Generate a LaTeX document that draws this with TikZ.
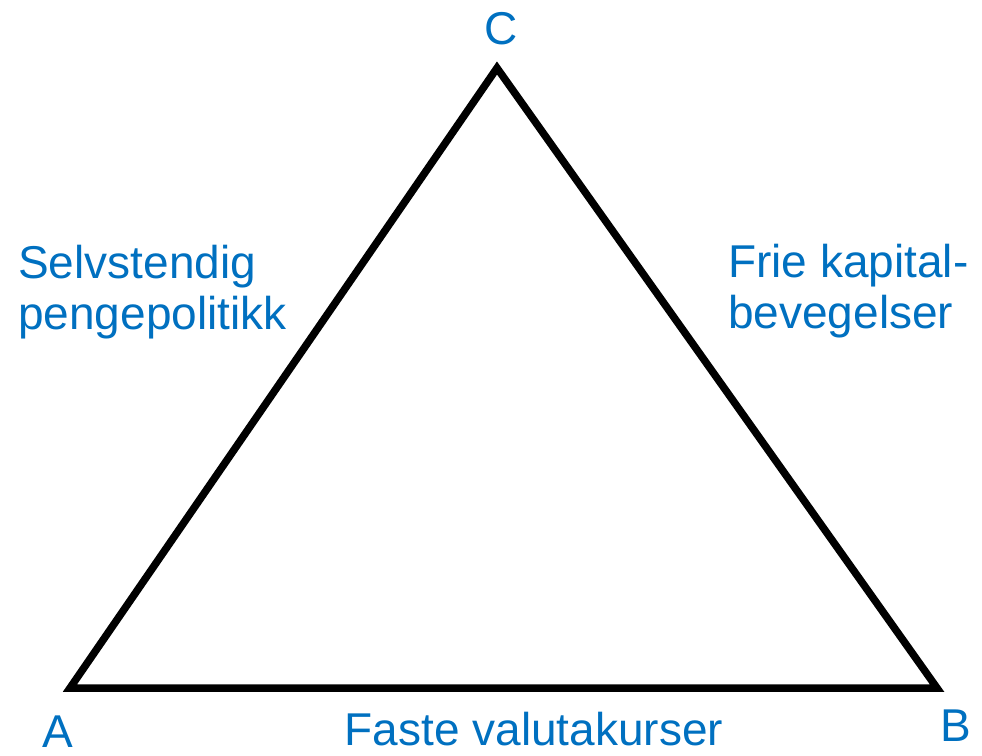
\documentclass[tikz,border=0pt]{standalone}
\usepackage{fontspec}
\setmainfont{Liberation Sans}
\usetikzlibrary{positioning}
\definecolor{trilBlue}{HTML}{0070C0}

\begin{document}
\begin{tikzpicture}[
  x=1pt, y=-1pt,
  corner/.style={text=trilBlue, inner sep=0pt,
                 font=\fontsize{46}{52}\selectfont},
  sidelabel/.style={text=trilBlue, inner sep=0pt, align=left,
                    font=\fontsize{46}{51}\selectfont},
  triside/.style={draw=black, line width=7.5pt, line join=miter}
]
\useasboundingbox (0,0) rectangle (982,755);

\coordinate (vA) at (70,688);
\coordinate (vB) at (937,688);
\coordinate (vC) at (497,68);
\draw[triside] (vA) -- (vB) -- (vC) -- cycle;

\node[corner, anchor=base] (labC) at (501,44) {C};
\node[corner, anchor=base] (labA) at (58,747) {A};
\node[corner, anchor=base] (labB) at (956,741) {B};

\node[sidelabel, anchor=base west] (money) at (18,329) {Selvstendig\\pengepolitikk};
\node[sidelabel, anchor=base west] (capital) at (728,328) {Frie kapital-\\bevegelser};
\node[corner, anchor=base] (fixed) at (534,745) {Faste valutakurser};
\end{tikzpicture}
\end{document}
